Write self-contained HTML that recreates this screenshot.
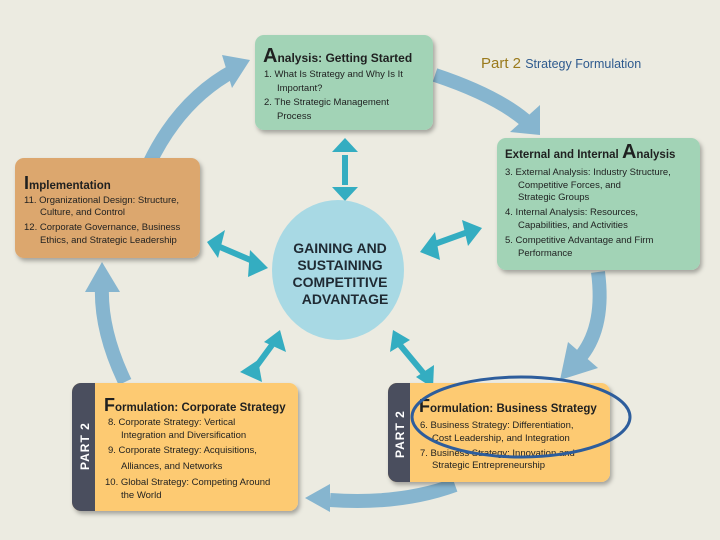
<!DOCTYPE html>
<html><head><meta charset="utf-8"><style>
body{margin:0;background:#ecebe1}
svg{display:block}
text{font-family:"Liberation Sans",sans-serif}
</style></head><body>
<svg width="720" height="540" viewBox="0 0 720 540">
<defs>
<filter id="sh" x="-10%" y="-10%" width="130%" height="130%"><feDropShadow dx="2" dy="3" stdDeviation="2" flood-color="#000" flood-opacity="0.3"/></filter>
</defs>
<rect width="720" height="540" fill="#ecebe1"/>
<g fill="none" stroke="#86b5cf" stroke-width="14">
<path d="M130 215 Q160 110 235 70"/>
<path d="M435 75 Q495 95 525 120"/>
<path d="M598 272 Q605 325 582 355"/>
<path d="M455 485 Q400 505 330 500"/>
<path d="M125 382 Q100 330 102 285"/>
</g>
<g fill="#86b5cf">
<polygon points="222,55 250,60 232,88"/>
<polygon points="540,105 540,135 510,132"/>
<polygon points="568,342 598,368 560,380"/>
<polygon points="330,484 305,498 330,512"/>
<polygon points="85,292 102,262 120,292"/>
</g>
<g fill="#34adc1" stroke="#34adc1" stroke-width="6">
<line x1="345" y1="155" x2="345" y2="185"/>
<polygon points="332,152 345,138 358,152" stroke="none"/>
<polygon points="332,187 345,201 358,187" stroke="none"/>
<line x1="220" y1="247" x2="255" y2="262"/>
<polygon points="207,242 225,230 218,258" stroke="none"/>
<polygon points="268,268 250,250 248,277" stroke="none"/>
<line x1="432" y1="245" x2="468" y2="232"/>
<polygon points="420,252 435,232 440,260" stroke="none"/>
<polygon points="482,228 462,220 468,246" stroke="none"/>
<line x1="272" y1="345" x2="250" y2="375"/>
<polygon points="280,330 286,352 264,342" stroke="none"/>
<polygon points="262,382 258,360 240,372" stroke="none"/>
<line x1="400" y1="345" x2="425" y2="375"/>
<polygon points="393,330 410,340 390,352" stroke="none"/>
<polygon points="433,388 434,365 416,377" stroke="none"/>
</g>
<ellipse cx="338" cy="270" rx="66" ry="70" fill="#a8d9e4"/>
<g font-weight="bold" font-size="14" fill="#1f2a33" text-anchor="middle">
<text x="340" y="253">GAINING AND</text>
<text x="340" y="270">SUSTAINING</text>
<text x="340" y="287">COMPETITIVE</text>
<text x="345" y="304">ADVANTAGE</text>
</g>
<g filter="url(#sh)">
<rect x="255" y="35" width="178" height="95" rx="9" fill="#a2d3b6"/>
<rect x="497" y="138" width="203" height="132" rx="9" fill="#a2d3b6"/>
<rect x="15" y="158" width="185" height="100" rx="9" fill="#dca76e"/>
<rect x="72" y="383" width="226" height="128" rx="9" fill="#fdca72"/>
<rect x="388" y="383" width="222" height="99" rx="9" fill="#fdca72"/>
</g>
<path d="M81 383 H95 V511 H81 A9 9 0 0 1 72 502 V392 A9 9 0 0 1 81 383Z" fill="#4a4e5e"/>
<path d="M397 383 H410 V482 H397 A9 9 0 0 1 388 473 V392 A9 9 0 0 1 397 383Z" fill="#4a4e5e"/>
<text transform="translate(89,470) rotate(-90)" font-size="12" font-weight="bold" fill="#fff" letter-spacing="1">PART 2</text>
<text transform="translate(404,458) rotate(-90)" font-size="12" font-weight="bold" fill="#fff" letter-spacing="1">PART 2</text>
<g fill="#1f2020" font-size="10">
<text x="263" y="62" font-weight="bold" font-size="12"><tspan font-size="20">A</tspan>nalysis: Getting Started</text>
<text x="264" y="77" font-size="9.5">1. What Is Strategy and Why Is It</text>
<text x="277" y="91" font-size="9.5">Important?</text>
<text x="264" y="105" font-size="9.5">2. The Strategic Management</text>
<text x="277" y="119" font-size="9.5">Process</text>
<text x="505" y="158" font-weight="bold" font-size="11.5">External and Internal <tspan font-size="20">A</tspan>nalysis</text>
<text x="505" y="175" font-size="9.5">3. External Analysis: Industry Structure,</text>
<text x="518" y="188" font-size="9.5">Competitive Forces, and</text>
<text x="518" y="200" font-size="9.5">Strategic Groups</text>
<text x="505" y="215" font-size="9.5">4. Internal Analysis: Resources,</text>
<text x="518" y="228" font-size="9.5">Capabilities, and Activities</text>
<text x="505" y="243" font-size="9.5">5. Competitive Advantage and Firm</text>
<text x="518" y="256" font-size="9.5">Performance</text>
<text x="24" y="189" font-weight="bold" font-size="11.5"><tspan font-size="18">I</tspan>mplementation</text>
<text x="24" y="203" font-size="9.5">11. Organizational Design: Structure,</text>
<text x="40" y="215" font-size="9.5">Culture, and Control</text>
<text x="24" y="230" font-size="9.5">12. Corporate Governance, Business</text>
<text x="40" y="243" font-size="9.5">Ethics, and Strategic Leadership</text>
<text x="104" y="411" font-weight="bold" font-size="11.5"><tspan font-size="18">F</tspan>ormulation: Corporate Strategy</text>
<text x="108" y="425" font-size="9.5">8. Corporate Strategy: Vertical</text>
<text x="121" y="438" font-size="9.5">Integration and Diversification</text>
<text x="108" y="453" font-size="9.5">9. Corporate Strategy: Acquisitions,</text>
<text x="121" y="469" font-size="9.5">Alliances, and Networks</text>
<text x="105" y="485" font-size="9.5">10. Global Strategy: Competing Around</text>
<text x="121" y="498" font-size="9.5">the World</text>
<text x="419" y="412" font-weight="bold" font-size="11.5"><tspan font-size="18">F</tspan>ormulation: Business Strategy</text>
<text x="420" y="428" font-size="9.5">6. Business Strategy: Differentiation,</text>
<text x="432" y="441" font-size="9.5">Cost Leadership, and Integration</text>
<text x="420" y="456" font-size="9.5">7. Business Strategy: Innovation and</text>
<text x="432" y="468" font-size="9.5">Strategic Entrepreneurship</text>
</g>
<ellipse cx="521" cy="417" rx="109" ry="40" fill="none" stroke="#2d5d9c" stroke-width="3"/>
<text x="481" y="68" font-size="15" fill="#9a7a1c">Part 2 <tspan font-size="12.5" fill="#2e5a8e">Strategy Formulation</tspan></text>
</svg>
</body></html>
